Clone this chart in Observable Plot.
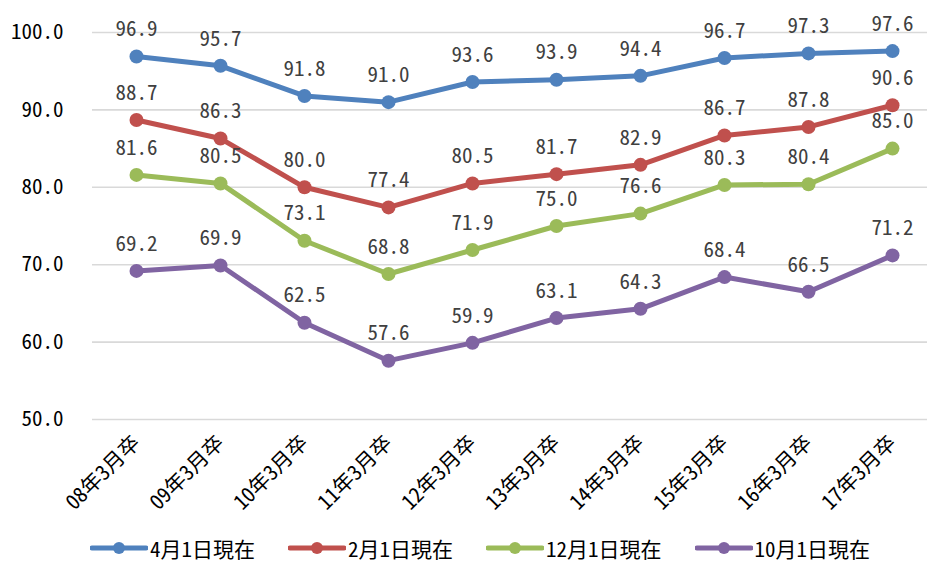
<!DOCTYPE html>
<html>
<head>
<meta charset="utf-8">
<script src="https://cdn.jsdelivr.net/npm/d3@7"></script>
<script src="https://cdn.jsdelivr.net/npm/@observablehq/plot@0.6"></script>
<style>
  body { margin: 0; background: white; }
  #chart { width: 927px; font-family: "Noto Sans Mono CJK JP", "Noto Sans CJK JP", sans-serif; }
  .legend { display: flex; justify-content: flex-start; align-items: center; padding-left: 90px; height: 26px; line-height: 26px; font-size: 21px; color: #000; margin-top: 5px; }
  .legend .item { display: flex; align-items: center; margin-right: 33px; }
  .legend svg { margin-right: 2px; }
</style>
</head>
<body>
<div id="chart"></div>
<script>
const categories = ["08年3月卒","09年3月卒","10年3月卒","11年3月卒","12年3月卒","13年3月卒","14年3月卒","15年3月卒","16年3月卒","17年3月卒"];
const seriesNames = ["4月1日現在","2月1日現在","12月1日現在","10月1日現在"];
const seriesColors = ["#4F81BD","#C0504D","#9BBB59","#8064A2"];
const apr = [96.9,95.7,91.8,91.0,93.6,93.9,94.4,96.7,97.3,97.6];
const feb = [88.7,86.3,80.0,77.4,80.5,81.7,82.9,86.7,87.8,90.6];
const dec = [81.6,80.5,73.1,68.8,71.9,75.0,76.6,80.3,80.4,85.0];
const oct = [69.2,69.9,62.5,57.6,59.9,63.1,64.3,68.4,66.5,71.2];
const yTicks = [50,60,70,80,90,100];

const seriesValues = [apr, feb, dec, oct];
const data = [];
seriesValues.forEach((vals, si) => {
  vals.forEach((v, i) => data.push({series: seriesNames[si], cat: categories[i], value: v}));
});

const font = "'Noto Sans Mono CJK JP', 'Noto Sans CJK JP', sans-serif";

const plot = Plot.plot({
  width: 927,
  height: 530,
  marginLeft: 92,
  marginRight: -8,
  marginTop: 32,
  marginBottom: 111,
  style: {fontFamily: font, fontSize: "21px", background: "white", overflow: "hidden"},
  x: {type: "point", domain: categories, padding: 0.486},
  y: {domain: [50, 100]},
  color: {domain: seriesNames, range: seriesColors},
  marks: [
    Plot.ruleY(yTicks, {stroke: "#d9d9d9", strokeWidth: 1.6}),
    Plot.axisY({ticks: yTicks, tickFormat: d => d.toFixed(1), tickSize: 0, tickPadding: 29, label: null, fill: "#000", fontSize: 21}),
    Plot.axisX({tickRotate: -45, tickSize: 0, tickPadding: 20, label: null, fill: "#000", fontSize: 21}),
    Plot.line(data, {x: "cat", y: "value", z: "series", stroke: "series", strokeWidth: 5, strokeLinejoin: "round"}),
    Plot.dot(data, {x: "cat", y: "value", fill: "series", r: 7}),
    Plot.text(data, {x: "cat", y: "value", text: d => d.value.toFixed(1), dy: -27, fill: "#404040", fontSize: 21})
  ]
});

const chart = document.getElementById("chart");
chart.appendChild(plot);

const legend = document.createElement("div");
legend.className = "legend";
seriesNames.forEach((name, i) => {
  const item = document.createElement("div");
  item.className = "item";
  item.innerHTML = `<svg width="58" height="16"><line x1="2" y1="8" x2="56" y2="8" stroke="${seriesColors[i]}" stroke-width="5" stroke-linecap="round"/><circle cx="29" cy="8" r="6" fill="${seriesColors[i]}"/></svg><span>${name}</span>`;
  legend.appendChild(item);
});
chart.appendChild(legend);
</script>
</body>
</html>
